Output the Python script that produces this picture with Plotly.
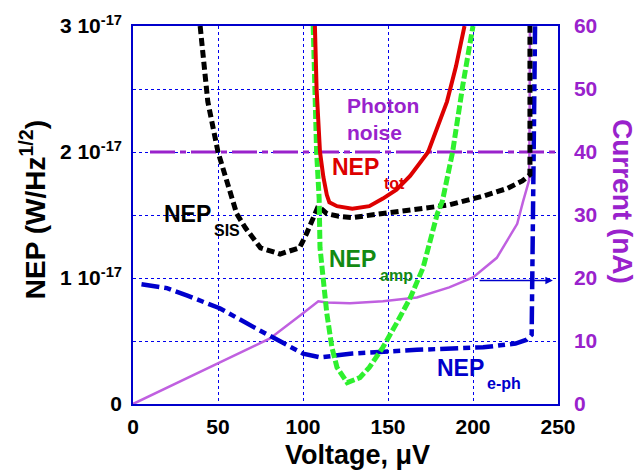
import plotly.graph_objects as go

# ---------------- data (NEP in units of 1e-17 W/Hz^1/2, current in nA, voltage in uV)
v_sis = [39.5, 44, 50, 55, 58, 61, 66, 75, 86.5, 98, 102, 106, 109, 114, 121, 129, 147, 167, 186, 206, 220, 229, 233.5, 233.5]
nep_sis = [3.0, 2.4, 2.0, 1.77, 1.63, 1.51, 1.40, 1.24, 1.19, 1.24, 1.35, 1.48, 1.57, 1.51, 1.49, 1.48, 1.51, 1.55, 1.58, 1.65, 1.71, 1.77, 1.82, 3.0]

v_tot = [107, 108, 110, 112, 114, 115.5, 120, 129, 139, 147, 155, 163, 173.6, 184.7, 190, 195]
nep_tot = [3.0, 2.5, 2.0, 1.8, 1.66, 1.6, 1.57, 1.55, 1.57, 1.63, 1.70, 1.81, 2.0, 2.4, 2.68, 3.0]

v_amp = [106, 108, 109.5, 110, 112, 114, 117, 120, 126, 133.5, 139, 147, 155, 163, 170.6, 179, 182, 184.7, 188, 194, 200]
nep_amp = [3.0, 2.0, 1.63, 1.24, 0.98, 0.72, 0.45, 0.29, 0.17, 0.21, 0.29, 0.45, 0.64, 0.84, 1.08, 1.51, 1.61, 1.77, 2.0, 2.53, 3.0]

v_eph = [5, 20, 32, 51, 71, 90, 100, 110, 129, 167, 206, 225, 231.6, 234.5, 235.5, 236.5]
nep_eph = [0.95, 0.92, 0.86, 0.76, 0.61, 0.47, 0.40, 0.37, 0.40, 0.43, 0.45, 0.48, 0.51, 0.55, 2.0, 3.0]

v_photon = [10, 250]
nep_photon = [2.0, 2.0]

v_cur = [0, 20, 51, 80.6, 100, 109, 114, 127.6, 147, 167, 186, 200, 214, 226, 229.5, 233, 233.3, 233.5]
current = [0, 2.6, 6.5, 10.4, 14.4, 16.3, 16.1, 16.0, 16.3, 16.9, 18.5, 20.1, 23.2, 28.6, 32.2, 35.5, 45, 62]

x_ticks = [0, 50, 100, 150, 200, 250]
nep_ticks = [0, 1, 2, 3]
nep_ticktext = ["0", "1 10<sup>-17</sup>", "2 10<sup>-17</sup>", "3 10<sup>-17</sup>"]
cur_ticks = [0, 10, 20, 30, 40, 50, 60]

FONT = "Liberation Sans, Arial, sans-serif"
BLUE = "#0000cc"
PURPLE = "#9922cc"

fig = go.Figure()

# current (drawn first, underneath) on right axis
fig.add_trace(go.Scatter(x=v_cur, y=current, mode="lines", yaxis="y",
                         line=dict(color="#c060e0", width=2.5), showlegend=False))
# NEP curves on left axis
fig.add_trace(go.Scatter(x=v_photon, y=nep_photon, mode="lines", yaxis="y2",
                         line=dict(color=PURPLE, width=3, dash="25px,5px,6px,5px"), showlegend=False))
fig.add_trace(go.Scatter(x=v_eph, y=nep_eph, mode="lines", yaxis="y2",
                         line=dict(color=BLUE, width=4.5, dash="18px,5px,7px,5px"), showlegend=False))
fig.add_trace(go.Scatter(x=v_sis, y=nep_sis, mode="lines", yaxis="y2",
                         line=dict(color="black", width=5, dash="8px,4px"), showlegend=False))
fig.add_trace(go.Scatter(x=v_amp, y=nep_amp, mode="lines", yaxis="y2",
                         line=dict(color="#2ef02e", width=5, dash="9px,3px"), showlegend=False))
fig.add_trace(go.Scatter(x=v_tot, y=nep_tot, mode="lines", yaxis="y2",
                         line=dict(color="#dd0000", width=4), showlegend=False))

def lab(text, x, y, size, color):
    fig.add_annotation(text=text, x=x, y=y, xref="x", yref="y2", xanchor="left", yanchor="middle",
                       showarrow=False, font=dict(family=FONT, size=size, color=color, weight="bold"))

lab("Photon", 124.7, 2.37, 21, PURPLE)
lab("noise", 124.7, 2.155, 21, PURPLE)
lab("NEP", 115.9, 1.88, 23, "#dd0000")
lab("tot", 146.5, 1.75, 16, "#dd0000")
lab("NEP", 17.1, 1.51, 23, "black")
lab("SIS", 46.5, 1.38, 16, "black")
lab("NEP", 114.1, 1.15, 23, "#138a13")
lab("amp", 144.1, 1.02, 16, "#138a13")
lab("NEP", 177.6, 0.284, 23, BLUE)
lab("e-ph", 207, 0.166, 16, BLUE)

# arrow pointing to the current axis
fig.add_annotation(x=247, y=0.98, ax=203, ay=0.98, xref="x", yref="y2", axref="x", ayref="y2",
                   showarrow=True, arrowhead=2, arrowsize=1, arrowwidth=1.5, arrowcolor=BLUE, text="")

# axis titles
fig.add_annotation(text="NEP (W/Hz<sup>1/2</sup>)", x=-0.235, y=0.513, xref="paper", yref="paper",
                   textangle=-90, showarrow=False, xanchor="center", yanchor="middle",
                   font=dict(family=FONT, size=28, color="black", weight="bold"))
fig.add_annotation(text="Current (nA)", x=1.153, y=0.537, xref="paper", yref="paper",
                   textangle=90, showarrow=False, xanchor="center", yanchor="middle",
                   font=dict(family=FONT, size=28, color=PURPLE, weight="bold"))
fig.add_annotation(text="Voltage, μV", x=0.529, y=-0.135, xref="paper", yref="paper",
                   showarrow=False, xanchor="center", yanchor="middle",
                   font=dict(family=FONT, size=27, color="black", weight="bold"))

fig.update_layout(
    width=638, height=472,
    margin=dict(l=133, r=80, t=24, b=68),
    paper_bgcolor="white", plot_bgcolor="white",
    showlegend=False,
    xaxis=dict(range=[0, 250], tickvals=x_ticks, showgrid=True, gridcolor="#0000ee", griddash="dot",
               gridwidth=1, zeroline=False, showline=True, linecolor=BLUE, linewidth=1.5, mirror=True,
               ticks="", ticklabelstandoff=3,
               tickfont=dict(family=FONT, size=21, color="black", weight="bold")),
    yaxis=dict(range=[0, 60], tickvals=cur_ticks, side="right", showgrid=True, gridcolor="#0000ee",
               griddash="dot", gridwidth=1, zeroline=False, showline=True, linecolor=BLUE, linewidth=1.5,
               mirror=True, ticks="", ticklabelstandoff=10,
               tickfont=dict(family=FONT, size=21, color=PURPLE, weight="bold")),
    yaxis2=dict(range=[0, 3], tickvals=nep_ticks, ticktext=nep_ticktext, overlaying="y", side="left",
                showgrid=False, zeroline=False, showline=False, ticks="", ticklabelstandoff=10,
                tickfont=dict(family=FONT, size=21, color="black", weight="bold")),
)

fig.write_html("out.html")
